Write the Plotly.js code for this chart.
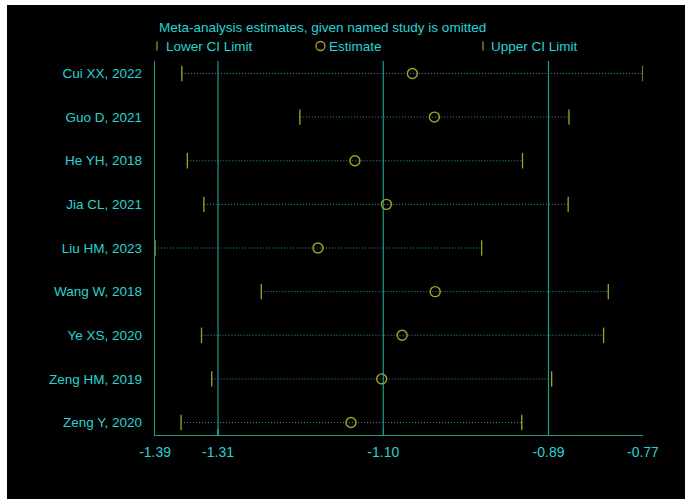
<!DOCTYPE html>
<html>
<head>
<meta charset="utf-8">
<script src="https://cdn.plot.ly/plotly-3.0.1.min.js"></script>
<style>
html, body { margin:0; padding:0; background:#ffffff; }
#chart { position:absolute; left:7px; top:5px; width:678px; height:494px; }
</style>
</head>
<body>
<div id="chart"></div>
<script>
// ---- data ----
const studies = ["Cui XX, 2022","Guo D, 2021","He YH, 2018","Jia CL, 2021","Liu HM, 2023","Wang W, 2018","Ye XS, 2020","Zeng HM, 2019","Zeng Y, 2020"];
const estimate = [-1.063,-1.035,-1.136,-1.096,-1.183,-1.034,-1.076,-1.102,-1.141];
const lowerCI  = [-1.356,-1.206,-1.349,-1.328,-1.390,-1.255,-1.331,-1.318,-1.357];
const upperCI  = [-0.770,-0.864,-0.923,-0.865,-0.975,-0.814,-0.820,-0.886,-0.924];
const tickVals = [-1.39,-1.31,-1.10,-0.89,-0.77];
const tickText = ["-1.39","-1.31","-1.10","-0.89","-0.77"];
const refLines = [-1.31,-1.10,-0.89];

// ---- style ----
const TEXT = "#27d3d3";
const GRID = "#1b9a8f";
const MARK = "#a3a322";
const DOT  = "#2a9b9b";
const FONT = "Liberation Sans, Arial, sans-serif";

const W = 678, H = 494;
const M = {l:148, r:42, t:56, b:64};
const pw = W - M.l - M.r, ph = H - M.t - M.b;
const px = x => (x - M.l) / pw;
const py = y => (H - M.b - y) / ph;

const rows = studies.map((s,i)=>i+1);

const segX = [], segY = [];
rows.forEach((r,i)=>{ segX.push(lowerCI[i], upperCI[i], null); segY.push(r, r, null); });

const traces = [
  {x: segX, y: segY, mode:'lines', type:'scatter', line:{color:DOT, width:1, dash:'1px,2px'}, hoverinfo:'skip', showlegend:false},
  {x: lowerCI, y: rows, mode:'markers', type:'scatter', marker:{symbol:'line-ns', size:11, line:{color:MARK, width:1.3}}, showlegend:false},
  {x: upperCI, y: rows, mode:'markers', type:'scatter', marker:{symbol:'line-ns', size:11, line:{color:MARK, width:1.3}}, showlegend:false},
  {x: estimate, y: rows, mode:'markers', type:'scatter', marker:{symbol:'circle-open', size:10, color:MARK, line:{color:MARK, width:1.4}}, showlegend:false}
];

const shapes = refLines.map(v => ({type:'line', xref:'x', yref:'paper', x0:v, x1:v, y0:0, y1:1, line:{color:GRID, width:1.2}, layer:'below'}));
// legend glyphs
shapes.push({type:'line', xref:'paper', yref:'paper', x0:px(150), x1:px(150), y0:py(36.5), y1:py(45.5), line:{color:MARK, width:1.2}});
shapes.push({type:'circle', xref:'paper', yref:'paper', x0:px(309), x1:px(318), y0:py(36.5), y1:py(45.5), line:{color:MARK, width:1.3}});
shapes.push({type:'line', xref:'paper', yref:'paper', x0:px(476), x1:px(476), y0:py(36.5), y1:py(45.5), line:{color:MARK, width:1.2}});

const ann = (text, x, y) => ({text, xref:'paper', yref:'paper', x:px(x), y:py(y), xanchor:'left', yanchor:'middle', showarrow:false, font:{family:FONT, size:13.5, color:TEXT}});
const annotations = [
  ann("Meta-analysis estimates, given named study is omitted", 150, 22),
  ann("Lower CI Limit", 157, 41),
  ann("Estimate", 320, 41),
  ann("Upper CI Limit", 482, 41)
];

const layout = {
  width: W, height: H,
  paper_bgcolor:'#000000', plot_bgcolor:'#000000',
  margin: M,
  showlegend:false,
  font:{family:FONT, size:14, color:TEXT},
  xaxis:{range:[-1.3901,-0.7699], tickvals:tickVals, ticktext:tickText, showgrid:false, zeroline:false,
         showline:true, linecolor:GRID, linewidth:1.2, ticks:'inside', ticklen:6, tickcolor:GRID, tickwidth:1.2,
         tickfont:{family:FONT, size:14, color:TEXT}, ticklabelstandoff:4},
  yaxis:{range:[9.285,0.715], tickvals:rows, ticktext:studies, showgrid:false, zeroline:false,
         showline:true, linecolor:GRID, linewidth:1.2, ticks:'',
         tickfont:{family:FONT, size:13.5, color:TEXT}, ticklabelstandoff:9},
  shapes, annotations
};

Plotly.newPlot('chart', traces, layout, {staticPlot:true, displayModeBar:false});
</script>
</body>
</html>
